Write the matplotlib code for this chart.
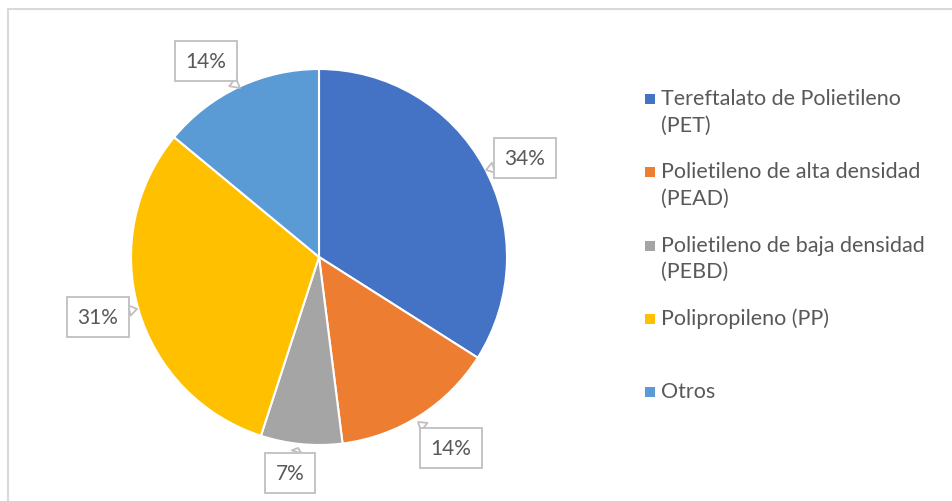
import matplotlib.pyplot as plt
from matplotlib.lines import Line2D

labels = ["Tereftalato de Polietileno\n(PET)", "Polietileno de alta densidad\n(PEAD)",
          "Polietileno de baja densidad\n(PEBD)", "Polipropileno (PP)", "Otros"]
shares = [34, 14, 7, 31, 14]
colors = ["#4472C4", "#ED7D31", "#A5A5A5", "#FFC000", "#5B9BD5"]

# label box centres and callout tips, in pixel coords (y from top)
label_pos = [(525, 159), (451, 449), (290, 474), (98, 318), (206, 62)]
tip_pos = [(486, 171), (418, 423), (298, 449), (137, 310), (240, 89)]

W, H = 953, 502
plt.rcParams['font.family'] = ['Lato', 'DejaVu Sans']
txt = "#595959"

fig = plt.figure(figsize=(W / 100, H / 100), dpi=100)
ax = fig.add_axes([0, 0, 1, 1])

# chart frame (only top and left edges fall inside the image)
ax.add_line(Line2D([8, 8, W + 5], [-5, H - 10, H - 10], color="#D9D9D9", lw=1.5))

ax.pie(shares, colors=colors, startangle=90, counterclock=False,
       center=(319, H - 258), radius=188, frame=True,
       wedgeprops=dict(edgecolor="white", linewidth=1.5))
ax.set_xlim(0, W)
ax.set_ylim(0, H)
ax.set_aspect('equal')
ax.axis('off')

for val, (lx, ly), (tx, ty) in zip(shares, label_pos, tip_pos):
    ax.annotate(f"{val}%", xy=(tx, H - ty), xytext=(lx, H - ly),
                ha='center', va='center', fontsize=15, color=txt,
                bbox=dict(boxstyle="square,pad=0.5", fc="white", ec="#BFBFBF", lw=1.3),
                arrowprops=dict(arrowstyle="wedge,tail_width=0.5", fc="white",
                                ec="#BFBFBF", lw=1.3, shrinkA=0, shrinkB=0))

# legend
for i, (lab, c) in enumerate(zip(labels, colors)):
    y = H - (100 + i * 73.3)
    ax.scatter([650], [y], marker='s', s=45, color=c, linewidths=0)
    ax.text(661, y + 11, lab, ha='left', va='top', fontsize=15.5, color=txt,
            linespacing=1.4)

fig.savefig("out.png", dpi=100)
